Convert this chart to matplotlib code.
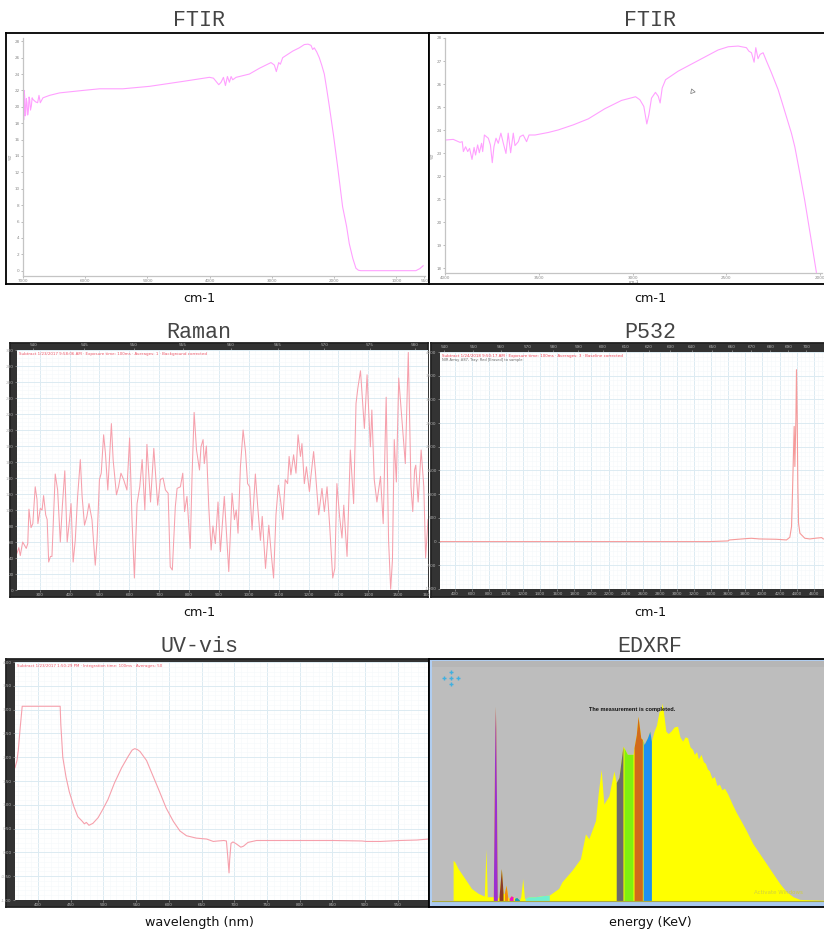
import numpy as np
import matplotlib
matplotlib.use("Agg")
import matplotlib.pyplot as plt

# ---------- data ----------
ftir1_wn = [7000,6995,6989,6981,6973,6965,6957,6946,6936,6925,6914,6903,6893,6880,6866,6853,6840,6797,6765,6743,6722,6679,6572,6412,6037,5770,5395,4967,4432,4004,3940,3897,3854,3817,3779,3747,3715,3683,3656,3630,3576,3362,3202,3015,2961,2929,2891,2864,2827,2666,2560,2479,2420,2372,2345,2319,2280,2239,2200,2158,2120,2078,2008,1944,1864,1800,1757,1700,1650,1610,1570,1222,687,623,570]
ftir1_t = [16.4,22.7,18.4,22.0,21.3,18.9,19.1,21.0,20.5,19.0,19.5,21.2,20.9,19.6,20.1,21.1,20.9,20.6,20.5,21.4,20.5,21.1,21.4,21.7,22.0,22.2,22.2,22.5,23.1,23.6,23.5,23.1,22.7,23.0,23.6,22.6,23.7,23.0,23.7,23.3,23.6,24.0,24.7,25.4,25.1,24.3,25.4,25.2,26.0,26.8,27.2,27.6,27.65,27.5,27.0,27.2,26.7,26.0,25.1,24.0,22.2,20.1,16.4,12.7,7.8,5.4,3.3,1.5,0.3,0.05,0.0,0.0,0.0,0.25,0.6]
ftir1_yticks = [0,2,4,6,8,10,12,14,16,18,20,22,24,26,28]
ftir1_xticks = [7000,6000,5000,4000,3000,2000,1000,550]

ftir2_wn = [4000,3956,3920,3908,3902,3890,3879,3869,3856,3845,3837,3826,3817,3805,3799,3790,3769,3758,3748,3739,3728,3716,3702,3689,3675,3663,3650,3636,3627,3609,3600,3583,3565,3552,3520,3449,3396,3316,3236,3148,3059,2984,2961,2940,2924,2913,2899,2878,2863,2853,2842,2824,2757,2632,2544,2490,2437,2393,2380,2366,2352,2343,2331,2320,2304,2286,2260,2224,2202,2180,2153,2135,2108,2082,2050,2020]
ftir2_t = [23.57,23.60,23.47,23.50,23.07,23.28,23.07,23.21,22.73,23.25,22.92,23.36,23.02,23.43,23.07,23.79,23.65,23.36,22.59,23.28,23.65,23.43,23.87,23.43,22.99,23.87,23.02,23.87,23.33,23.50,23.72,23.79,23.50,23.79,23.79,23.90,24.01,24.23,24.49,24.93,25.29,25.45,25.32,25.03,24.27,24.67,25.39,25.64,25.47,25.18,25.83,26.19,26.56,27.10,27.48,27.62,27.65,27.58,27.43,27.36,26.95,27.58,27.10,27.29,27.36,27.00,26.50,25.76,25.18,24.59,23.87,23.28,22.12,20.95,19.35,17.83]
ftir2_yticks = [18,19,20,21,22,23,24,25,26,27,28]
ftir2_xticks = [4000,3500,3000,2500,2000]

raman_x = [224,230,235,243,249,255,260,264,271,277,285,291,294,302,308,313,320,325,330,336,341,352,360,369,376,384,392,400,405,412,419,427,436,442,450,458,465,475,486,492,500,506,514,520,528,540,546,557,564,572,581,592,601,609,617,626,635,643,652,659,671,682,695,704,713,721,730,737,744,754,760,771,779,785,793,804,810,817,825,835,840,847,851,858,866,874,880,888,897,905,918,933,944,952,958,964,972,981,989,996,1003,1011,1022,1030,1039,1045,1056,1067,1076,1083,1091,1099,1106,1114,1122,1130,1135,1141,1150,1158,1165,1173,1178,1186,1193,1203,1208,1217,1223,1234,1245,1253,1262,1271,1281,1288,1295,1304,1312,1318,1329,1340,1351,1359,1365,1374,1387,1396,1407,1412,1420,1429,1441,1450,1460,1468,1475,1481,1487,1494,1502,1511,1524,1534,1543,1549,1555,1559,1567,1577,1586,1592,1600]
raman_y = [46,53,43,60,56,52,58,101,78,83,129,113,83,102,100,118,94,88,35,42,42,145,125,60,106,149,60,88,108,35,62,117,163,117,81,92,108,88,31,62,138,146,194,171,125,208,162,119,129,146,138,125,190,88,15,108,129,163,100,182,110,177,106,138,140,125,121,29,25,104,127,129,146,98,117,52,142,222,175,150,179,188,158,180,104,50,80,58,110,48,117,23,121,88,100,71,154,200,173,133,129,75,145,104,62,92,27,81,42,15,94,131,113,88,138,133,167,144,169,146,194,167,183,133,154,123,142,173,148,94,127,98,129,79,15,27,133,92,65,106,42,175,108,233,252,274,202,269,179,225,138,110,142,83,241,62,1,38,188,135,265,221,158,297,129,98,150,156,110,175,129,40,88]
raman_xticks = list(range(300,1700,100))
raman_yticks = list(range(0,320,20))
raman_top_nm = [540,545,550,555,560,565,570,575,580]

p532_x = [228,1223,2399,3379,3595,3614,3810,3869,3967,4163,4281,4320,4340,4351,4363,4371,4379,4391,4398,4406,4414,4422,4438,4496,4555,4614,4692,4712]
p532_y = [0,0,0,0,14,35,63,70,56,49,35,91,316,1021,1866,2430,1584,2570,3626,2640,1162,387,176,70,56,70,84,56]
p532_xticks = list(range(400,4800,200))
p532_yticks = list(range(-1000,4500,500))
p532_top_nm = list(range(540,710,10))

uv_x = [365,368,370,373,376,392,434,435,438,443,448,455,461,468,471,474,478,484,492,499,507,517,528,538,544,548,552,556,566,576,586,596,607,617,627,642,658,668,675,684,688,690,692,693,695,698,703,710,714,721,734,775,851,895,902,923,953,979,996]
uv_y = [1.78,1.93,2.14,2.63,3.07,3.07,3.07,2.69,2.00,1.58,1.27,0.96,0.75,0.65,0.60,0.63,0.57,0.61,0.73,0.90,1.11,1.46,1.78,2.02,2.15,2.18,2.16,2.12,1.93,1.60,1.27,0.93,0.65,0.45,0.35,0.30,0.28,0.23,0.24,0.25,0.24,-0.08,-0.43,-0.15,0.19,0.22,0.18,0.11,0.13,0.21,0.25,0.25,0.25,0.24,0.23,0.23,0.25,0.26,0.28]
uv_xticks = list(range(400,1000,50))
uv_yticks = [-1,-0.5,0,0.5,1,1.5,2,2.5,3,3.5,4]

xrf_kev = [2.10,2.10,2.27,2.60,3.27,3.93,4.60,5.20,5.37,5.50,6.10,6.17,6.25,6.30,6.35,6.43,6.50,6.67,6.80,6.90,7.00,7.07,7.20,7.37,7.53,7.67,7.87,8.07,8.20,8.43,8.70,8.83,9.03,9.20,9.27,9.60,10.27,10.93,11.67,12.60,12.93,13.93,14.77,15.27,15.60,16.27,16.53,16.83,17.10,17.60,18.10,18.33,18.60,19.00,19.10,19.43,20.00,20.10,20.33,20.50,20.77,20.93,21.00,21.10,21.43,21.67,21.83,22.10,22.33,22.60,22.77,22.90,23.07,23.27,23.50,23.77,24.10,24.43,24.67,24.93,25.20,25.43,25.67,25.93,26.10,26.33,26.50,26.77,27.00,27.20,27.40,27.60,27.85,28.10,28.35,28.60,28.85,29.10,29.43,29.87,30.27,30.77,31.27,31.93,32.60,33.27,33.93,34.60,35.27,35.93,36.60,38.27,39.17]
xrf_counts = [0,122,117,97,67,37,22,14,157,12,12,260,520,587,520,260,7,12,60,97,55,22,22,47,12,7,15,12,7,10,2,12,67,7,7,12,12,15,17,37,57,92,127,202,187,242,322,397,292,317,392,357,372,467,462,442,442,462,502,557,492,487,485,472,492,512,482,512,530,572,575,597,560,512,505,512,525,527,495,482,495,492,465,457,442,450,428,442,420,415,398,392,370,375,348,352,335,340,322,292,267,240,212,172,142,112,82,52,27,12,4,2,1]
xrf_lo = [6.10,6.67,7.20,7.67,8.20,9.27,18.33,19.10,20.10,21.00]
xrf_hi = [6.50,7.07,7.53,8.07,8.70,11.67,19.00,20.00,20.93,21.83]
xrf_colors = ["#9b30d0","#8b3a2a","#f08a10","#f010c8","#10a0c0","#70f0d0","#6b6b6b","#80f010","#d26a1a","#1e90f0"]

titles = ["FTIR","FTIR","Raman","P532","UV-vis","EDXRF"]
xlabels = ["cm-1","cm-1","cm-1","cm-1","wavelength (nm)","energy (KeV)"]
raman_note = "Subtract 1/23/2017 9:58:06 AM · Exposure time: 100ms · Averages: 1 · Background corrected"
p532_note = "Subtract 1/24/2018 9:50:17 AM · Exposure time: 100ms · Averages: 3 · Baseline corrected"
p532_note2 = "NIR Array #87, Tray: Red [Erased] to sample"
uv_note = "Subtract 1/23/2017 1:50:29 PM · Integration time: 100ms · Averages: 50"

# ---------- layout helpers ----------
W, H = 824, 930
fig = plt.figure(figsize=(W/100, H/100), dpi=100, facecolor="white")

def box(x0, y0, x1, y1, **kw):
    return fig.add_axes([x0/W, 1-y1/H, (x1-x0)/W, (y1-y0)/H], **kw)

def outer(x0, y0, x1, y1, face, edge="black", lw=1.3):
    a = box(x0, y0, x1, y1, facecolor=face)
    a.set_xticks([]); a.set_yticks([])
    for s in a.spines.values():
        s.set_color(edge); s.set_linewidth(lw)
    return a

def label_panel(cx, ty, ly, title, xlabel):
    fig.text(cx/W, 1-ty/H, title, ha="center", va="center", fontsize=15.6,
             family="Liberation Mono", color="#444444")
    fig.text(cx/W, 1-ly/H, xlabel, ha="center", va="center", fontsize=9.2,
             family="DejaVu Sans", color="#111111")

def ftir_axes(px):
    a = box(*px, facecolor="white")
    a.patch.set_alpha(0)
    for s in ("top","right"):
        a.spines[s].set_visible(False)
    for s in ("left","bottom"):
        a.spines[s].set_color("#c4c4c4"); a.spines[s].set_linewidth(0.9)
    a.tick_params(labelsize=3, colors="#888888", length=1.5, width=0.4, pad=1)
    return a

def dark_axes(px):
    a = box(*px, facecolor="white")
    for s in a.spines.values():
        s.set_visible(False)
    a.tick_params(labelsize=3, colors="#b5b5b5", length=1.5, width=0.4, pad=1)
    a.set_axisbelow(True)
    a.grid(True, which="major", color="#dcebf2", lw=0.7)
    a.minorticks_on()
    a.grid(True, which="minor", color="#f5f9fb", lw=0.4)
    a.tick_params(which="minor", length=0)
    return a

def shift_from_nm(nm):
    return 1e7/532 - 1e7/np.asarray(nm, dtype=float)

def nm_from_shift(s):
    return 1e7/(1e7/532 - np.asarray(s, dtype=float))

def top_axis(a, ticks):
    t = a.secondary_xaxis("top", functions=(nm_from_shift, shift_from_nm))
    t.set_xticks(ticks)
    t.set_xticklabels([str(v) for v in ticks])
    t.tick_params(labelsize=3, colors="#b5b5b5", length=1.5, width=0.4, pad=0.5)
    t.minorticks_off()
    for s in t.spines.values():
        s.set_visible(False)

PINK = "#ffa0ff"
RED = "#f6a0ac"

# ---------- FTIR 1 ----------
outer(6, 33, 429, 284, "white")
a = ftir_axes((23, 38, 425, 276))
a.plot(ftir1_wn, ftir1_t, color=PINK, lw=0.8)
a.set_xlim(7000, 540); a.set_ylim(-0.65, 28.4)
a.set_xticks(ftir1_xticks); a.set_xticklabels([str(v) for v in ftir1_xticks])
a.set_yticks(ftir1_yticks); a.set_yticklabels([str(v) for v in ftir1_yticks])
a.set_ylabel("%T", fontsize=3, color="#777777", labelpad=1)

# ---------- FTIR 2 ----------
outer(429, 33, 830, 284, "white")
a = ftir_axes((445, 38, 822, 273))
a.plot(ftir2_wn, ftir2_t, color=PINK, lw=0.8)
a.set_xlim(4000, 1990); a.set_ylim(17.8, 28.0)
a.set_xticks(ftir2_xticks); a.set_xticklabels([str(v) for v in ftir2_xticks])
a.set_yticks(ftir2_yticks); a.set_yticklabels([str(v) for v in ftir2_yticks])
a.set_ylabel("%T", fontsize=3, color="#777777", labelpad=1)
a.set_xlabel("cm-1", fontsize=3, color="#777777", labelpad=0)
a.plot([0.655], [0.775], marker=(3, 0, 20), ms=4, mfc="white", mec="#777777", mew=0.5,
       transform=a.transAxes, clip_on=False)

# ---------- Raman ----------
outer(10, 343, 428, 597, "#333333", edge="#222222")
a = dark_axes((17, 350, 428, 590))
a.plot(raman_x, raman_y, color=RED, lw=0.75)
a.set_xlim(224, 1600); a.set_ylim(0, 300)
a.set_xticks(raman_xticks); a.set_xticklabels([str(v) for v in raman_xticks])
a.set_yticks(raman_yticks); a.set_yticklabels([str(v) for v in raman_yticks])
top_axis(a, raman_top_nm)
a.text(0.006, 0.982, raman_note, transform=a.transAxes, fontsize=2.9, color="#ee5566", va="center")

# ---------- P532 ----------
outer(431, 343, 830, 597, "#333333", edge="#222222")
a = dark_axes((440, 352, 830, 589))
a.plot(p532_x, p532_y, color="#f69a9a", lw=0.8)
a.set_xlim(228, 4790); a.set_ylim(-1000, 4000)
a.set_xticks(p532_xticks); a.set_xticklabels([str(v) for v in p532_xticks])
a.set_yticks(p532_yticks); a.set_yticklabels([str(v) for v in p532_yticks])
top_axis(a, p532_top_nm)
a.text(0.004, 0.983, p532_note, transform=a.transAxes, fontsize=2.9, color="#ee4455", va="center")
a.text(0.004, 0.966, p532_note2, transform=a.transAxes, fontsize=2.6, color="#666666", va="center")

# ---------- UV-vis ----------
outer(6, 659, 429, 907, "#333333", edge="#222222")
a = dark_axes((15, 662, 428, 900))
a.plot(uv_x, uv_y, color=RED, lw=0.8)
a.set_xlim(365, 996); a.set_ylim(-1, 4)
a.set_xticks(uv_xticks); a.set_xticklabels([str(v) for v in uv_xticks])
a.set_yticks(uv_yticks); a.set_yticklabels([f"{v:.2f}" for v in uv_yticks])
a.text(0.004, 0.982, uv_note, transform=a.transAxes, fontsize=2.9, color="#ee5566", va="center")

# ---------- EDXRF ----------
outer(429, 659, 830, 907, "#b0cdf0")
a = box(432, 661, 830, 906, facecolor="#bdbdbd")
for s in a.spines.values():
    s.set_visible(False)
a.set_xticks([]); a.set_yticks([])
a.axhspan(-16, -3, color="#a9c8ee", lw=0, zorder=1)
a.axhspan(705, 724, color="#b6b6b6", lw=0, zorder=1)
x = np.array(xrf_kev); y = np.array(xrf_counts)
a.fill_between(x, 0, y, color="#ffff00", lw=0, zorder=2)
for lo, hi, c in zip(xrf_lo, xrf_hi, xrf_colors):
    m = (x >= lo) & (x <= hi)
    a.fill_between(x[m], 0, y[m], color=c, lw=0, zorder=3)
a.axhline(0, color="#a8a840", lw=0.8, zorder=4)
a.set_xlim(0, 39.6); a.set_ylim(-16, 724)
a.text(19.95, 577, "The measurement is completed.", fontsize=4.1, fontweight="bold",
       family="Liberation Sans", color="#111111", ha="center", va="center", zorder=5)
a.text(34.5, 25, "Activate Windows", fontsize=4, color="#d0d040", ha="center", va="center", zorder=5)
cross_x = [0.048, 0.048, 0.048, 0.030, 0.066]
cross_y = [0.955, 0.930, 0.905, 0.930, 0.930]
a.plot(cross_x, cross_y, ls="", marker="+", ms=3.5, mew=1.0, color="#40b0e0",
       transform=a.transAxes, zorder=5)

# ---------- titles and axis names ----------
centers = [199, 650, 199, 650, 199, 650]
title_y = [21, 21, 332, 332, 646, 646]
label_y = [298, 298, 612, 612, 922, 922]
for cx, ty, ly, t, l in zip(centers, title_y, label_y, titles, xlabels):
    label_panel(cx, ty, ly, t, l)

fig.savefig("out.png", dpi=100)
